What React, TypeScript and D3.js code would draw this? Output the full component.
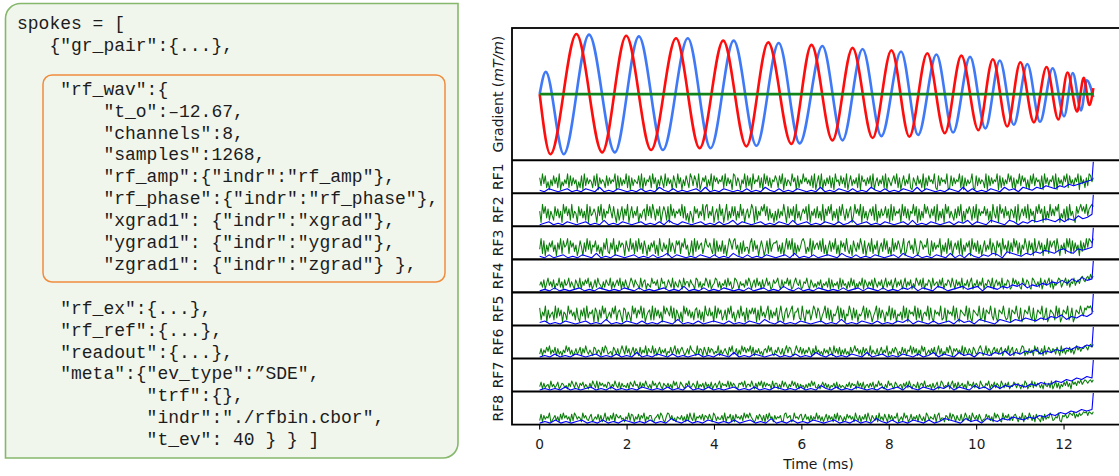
import React from 'react';
import * as d3 from 'd3';

// ---------------- Left panel: code listing ----------------
const codeLines: [number, string][] = [
  [0, 'spokes = ['],
  [3, '{"gr_pair":{...},'],
  [0, ''],
  [4, '"rf_wav":{'],
  [8, '"t_o":–12.67,'],
  [8, '"channels":8,'],
  [8, '"samples":1268,'],
  [8, '"rf_amp":{"indr":"rf_amp"},'],
  [8, '"rf_phase":{"indr":"rf_phase"},'],
  [8, '"xgrad1": {"indr":"xgrad"},'],
  [8, '"ygrad1": {"indr":"ygrad"},'],
  [8, '"zgrad1": {"indr":"zgrad"} },'],
  [0, ''],
  [4, '"rf_ex":{...},'],
  [4, '"rf_ref":{...},'],
  [4, '"readout":{...},'],
  [4, '"meta":{"ev_type":”SDE",'],
  [12, '"trf":{},'],
  [12, '"indr":"./rfbin.cbor",'],
  [12, '"t_ev": 40 } } ]'],
];

// ---------------- Gradient waveforms (extrema) ----------------
const gxTimes = [0, 0.245, 0.84, 1.43, 1.98, 2.55, 3.12, 3.66, 4.2, 4.73, 5.23, 5.76, 6.22, 6.7, 7.16, 7.62, 8.05, 8.46, 8.87, 9.27, 9.65, 10.04, 10.37, 10.7, 11.0, 11.31, 11.6, 11.87, 12.08, 12.3, 12.45, 12.58, 12.67];
const gxValues = [0, -1.0, 1.0, -0.97, 0.97, -0.93, 0.93, -0.9, 0.89, -0.87, 0.86, -0.83, 0.82, -0.77, 0.77, -0.73, 0.73, -0.71, 0.68, -0.65, 0.64, -0.6, 0.58, -0.54, 0.53, -0.47, 0.45, -0.42, 0.36, -0.29, 0.27, -0.18, 0.1];
const gyTimes = [0, 0.14, 0.55, 1.13, 1.72, 2.27, 2.82, 3.39, 3.91, 4.44, 4.96, 5.47, 5.95, 6.47, 6.93, 7.39, 7.82, 8.27, 8.66, 9.08, 9.46, 9.85, 10.2, 10.53, 10.85, 11.16, 11.45, 11.74, 12.0, 12.2, 12.39, 12.52, 12.67];
const gyValues = [0, 0.37, -1.0, 0.99, -0.97, 0.96, -0.93, 0.93, -0.9, 0.89, -0.86, 0.85, -0.82, 0.8, -0.77, 0.75, -0.7, 0.71, -0.68, 0.66, -0.64, 0.62, -0.57, 0.56, -0.51, 0.5, -0.46, 0.43, -0.37, 0.35, -0.27, 0.23, -0.05];
const gzTimes = [0, 12.67];
const gzValues = [0, 0];

// ---------------- RF channels ----------------
const rfLabels = ['RF1', 'RF2', 'RF3', 'RF4', 'RF5', 'RF6', 'RF7', 'RF8'];
// green trace (phase-like) : digit d -> d/9 * greenMax[ch]
const greenMax = [0.6, 0.68, 0.64, 0.55, 0.6, 0.42, 0.34, 0.38];
const greenDigits = [
  '7394825163847291536492837461528193746528391746528374659182736492817365482917365829471638529374618529471638529738629147582639185746582937461983751649283719465827194837265862849173653957182649574638291' +
    '5829163748271956384729158364729185637482915736482917536849271583649217538462917385649218375649128374659281736459218374652918374659182736495827164938572618493756281947365829174638592846375918462739857',
  '6195837264284736195847293651847362918457518492736596384172582749158364815367294839627481586281947365749382516418573649289364815729471592638482639471573597182648694827351627364951837481936257582916473' +
    '8362917485926371849527368149574918362574829163745837192846571948372659481726395853748192637195836427384916275862839174658472619538195738462763819257483927461859571826394748691537282946318579685947898',
  '4928163758361749285692857361485173948265836251749327491638576185394728394728516375826194374619375286827594613819384672596574291836382615974894617283552793846158514829367783627159484917263589725391846' +
    '7483926158374926185739426185374962815739264815739482519374862591378462951387465921837465916372948157482916375819473826158364927518571946382739582716496284719358471639285783951647295928374618374959879',
  '3526147352614372516347253164271536472513627431526437152463715263147526431725614327453612745136427153264173552643176251437526134762514362735127641534263751462735162473512645731625473612574361254731642' +
    '4253614352716243517263415273614253716425361742536147253614725361472536142753627143651734526371436527416352714362571436253714365271463527143651274635217436521764352714635726143576245736254735647865786978',
  '8264917356293847165295746283174829365718617395824638592674187264195837593814672928473619586493817526195847362783726195484619385724728593614739461827585817294636927364815941683579266832941757259738614' +
    '6938271546928371549628371546928375146928375164928371546293817564928371564928317564923817564928317654928317654923817659428317659423817659428137659428137659248137652948137659248137659648798976',
  '2615374825371624153847251362471638425317625417386234175261485283614726417253816438261472536143725826257413628543182651741736524381524631748236152847364827153624156384721537426158376214853726253741628' +
    '3524163527418362715262417358462517364182532614725381426375142736154827361528471352637148261427385164635281742641752368513826415736257146382571463258714263518472361824753652741836254736258574668758979',
  '3716245183524713652416385274164725316285281746352761538427163426175384517263842518462573164362518472275316482364182536173527146258164538273642165738255384162748273645182661528374153847261534152638472' +
    '2514736251436271524315372645183627145263715384621528463175245163728415427156382435162471386243715826173462518453726418532648153726418526371437526415286143827365251743628148261537483618574869579868979',
  '2716354812462517384635172863541846325713537261482526381754634153827615372648153662145738621587362415436251728428154637265374186253362815471617453628474853126375261738451635462178456128453672473516253' +
    '8' + '3625147263517382641527463518426153728416426183527417362548135284613725361742518625437168244165283751632714852618536274133746251847521836472526741538164385261743162735486235482165745876947586798969879',
];
// blue trace (amplitude-like) : digit d -> d * 0.05
const blueDigits = [
  '1021012010210301021010201031020101203010210102010310201021010301021020103102010210302101021030201021031203213243243545678',
  '0120102101201030102101201020310210120102013021012010210301201021020130120102101203010210120213021032103202132343242436457',
  '1020120102103010210120102013021010210201031020102101203010201210310201021012031020102103020310213204321324354356436567',
  '0102010120102101021020101201030102010210102012010310201021010201202102010213021032012312303213243524354657586978',
  '1201021012010301021020102103010201210201021031020102101201030102102010213021020120312032103213243243546354657',
  '0102010210120102010301021020101201021030102101201020103102010210301201021020130210312032132413243524354657687',
  '0101020101201020101021010201030102010120102010210102010310201021010201203102102130210312031324324354465768798',
  '0102010120102010210102010310201021010201201030102010210120102010310201021020132103120321324324354657687989',
];
const blueSpike = [1, 1, 1, 1, 1, 1, 1, 1];

const xTicks = [0, 2, 4, 6, 8, 10, 12];
const tEnd = 12.67;

const W = 1119;
const H = 476;

type P = [number, number];

export default function App() {
  // layout
  const axLeft = 512;
  const axRight = 1121;
  const top = 28;
  const unit = 33.05;
  const gradBottom = top + 4 * unit;
  const axBottom = gradBottom + 8 * unit;

  const x = d3.scaleLinear().domain([-0.6335, 13.3035]).range([axLeft, axRight]);
  const yGrad = d3.scaleLinear().domain([-1.1, 1.1]).range([gradBottom, top]);

  const smooth = d3
    .line<P>()
    .x((d) => x(d[0]))
    .y((d) => yGrad(d[1]))
    .curve(d3.curveMonotoneX);

  const gx: P[] = gxTimes.map((t, i) => [t, gxValues[i]]);
  const gy: P[] = gyTimes.map((t, i) => [t, gyValues[i]]);
  const gz: P[] = gzTimes.map((t, i) => [t, gzValues[i]]);

  // code box
  const bx0 = 5.5, by0 = 3.5, bx1 = 458, by1 = 458, r = 15;
  const boxPath = `M${bx0},${by0 + r} A${r},${r} 0 0 1 ${bx0 + r},${by0} H${bx1} V${by1 - r} A${r},${r} 0 0 1 ${bx1 - r},${by1} H${bx0} Z`;
  const cw = 10.8;
  const lineH = 21.9;

  return (
    <svg
      width={W}
      height={H}
      style={{ position: 'absolute', left: 0, top: 0, background: '#fff' }}
    >
      {/* ----- code listing ----- */}
      <path d={boxPath} fill="#f1f6ed" stroke="#85b86b" strokeWidth={1.6} />
      <rect x={43} y={75} width={402} height={207} rx={9} ry={9} fill="none" stroke="#f08c3e" strokeWidth={1.5} />
      <g fontFamily="'Liberation Mono', 'Courier New', monospace" fontSize={18} fill="#1c1c1c">
        {codeLines.map(([ind, txt], i) =>
          txt ? (
            <text key={i} x={17 + ind * cw} y={29 + i * lineH} style={{ whiteSpace: 'pre' }}>
              {txt}
            </text>
          ) : null
        )}
      </g>

      {/* ----- gradient panel ----- */}
      <path d={smooth(gy) || ''} fill="none" stroke="#4079f7" strokeWidth={2.6} />
      <path d={smooth(gx) || ''} fill="none" stroke="#ff0d0d" strokeWidth={2.6} />
      <path d={smooth(gz) || ''} fill="none" stroke="#12851a" strokeWidth={2.6} />

      {/* ----- RF panels ----- */}
      {rfLabels.map((lab, ch) => {
        const pTop = gradBottom + ch * unit;
        const pBot = pTop + unit;
        const y = d3.scaleLinear().domain([-0.05, 1.05]).range([pBot, pTop]);
        const ln = d3
          .line<P>()
          .x((d) => x(d[0]))
          .y((d) => y(d[1]));
        const gs = greenDigits[ch];
        const green: P[] = gs.split('').map((c, i) => [(i / (gs.length - 1)) * tEnd, (+c / 9) * greenMax[ch]]);
        const bs = blueDigits[ch];
        const blue: P[] = bs.split('').map((c, i) => [(i / (bs.length - 1)) * (tEnd - 0.03), +c * 0.05]);
        blue.push([tEnd, blueSpike[ch]]);
        return (
          <g key={lab}>
            <path d={ln(green) || ''} fill="none" stroke="#0b7d0b" strokeWidth={1.05} strokeLinejoin="round" />
            <path d={ln(blue) || ''} fill="none" stroke="#0000ff" strokeWidth={1.1} strokeLinejoin="round" />
            <text
              transform={`translate(503,${(pTop + pBot) / 2}) rotate(-90)`}
              textAnchor="middle"
              fontFamily="'DejaVu Sans', sans-serif"
              fontSize={14}
              fill="#1a1a1a"
            >
              {lab}
            </text>
          </g>
        );
      })}

      {/* ----- frames ----- */}
      <rect x={axLeft} y={top} width={axRight - axLeft} height={axBottom - top} fill="none" stroke="#000" strokeWidth={1.8} />
      {d3.range(1, 9).map((k) => (
        <line key={k} x1={axLeft} x2={axRight} y1={gradBottom + (k - 1) * unit} y2={gradBottom + (k - 1) * unit} stroke="#000" strokeWidth={2.1} />
      ))}

      {/* gradient y label */}
      <text
        transform={`translate(503,${(top + gradBottom) / 2}) rotate(-90)`}
        textAnchor="middle"
        fontFamily="'DejaVu Sans', sans-serif"
        fontSize={14}
        fill="#1a1a1a"
      >
        Gradient (<tspan fontStyle="italic">mT/m</tspan>)
      </text>

      {/* x axis */}
      {xTicks.map((t) => (
        <g key={t}>
          <line x1={x(t)} x2={x(t)} y1={axBottom} y2={axBottom + 5} stroke="#000" strokeWidth={1.1} />
          <text x={x(t)} y={448.5} textAnchor="middle" fontFamily="'DejaVu Sans', sans-serif" fontSize={13.7} fill="#1a1a1a">
            {t}
          </text>
        </g>
      ))}
      <text x={(axLeft + axRight) / 2 + 2} y={469.3} textAnchor="middle" fontFamily="'DejaVu Sans', sans-serif" fontSize={14} fill="#1a1a1a">
        Time (ms)
      </text>
    </svg>
  );
}
